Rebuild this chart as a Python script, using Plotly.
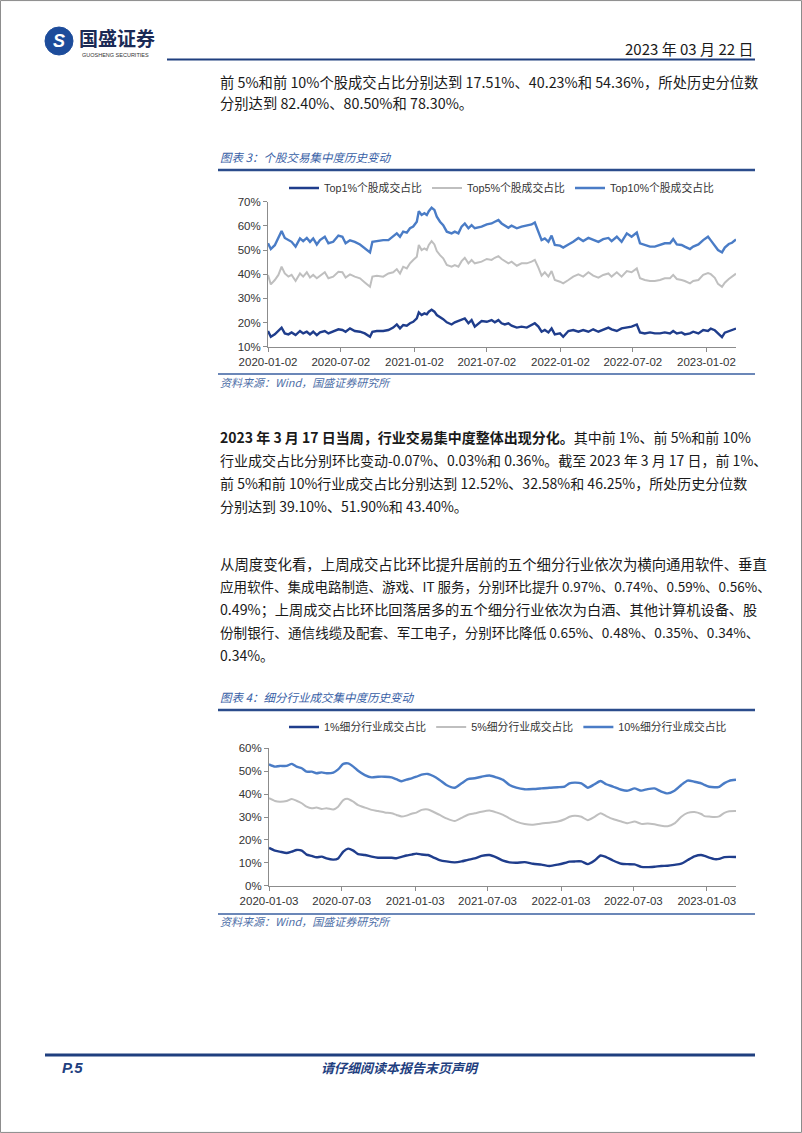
import pandas as pd
import plotly.graph_objects as go

W, H = 802, 1133

# ---------------- 图表3 数据：个股成交占比 (%) ----------------
c3_start = "2020-01-02"
c3_days = [0, 7, 17, 26, 34, 42, 51, 59, 69, 80, 88, 97, 105, 113, 122, 130, 142, 151, 163, 176,
           186, 194, 205, 217, 230, 242, 255, 261, 272, 288, 301, 313, 322, 330, 338, 347, 355, 363, 372, 377,
           384, 391, 397, 402, 409, 416, 422, 430, 438, 447, 459, 467, 476, 484, 492, 501, 509, 517,
           534, 547, 559, 567, 576, 584, 592, 601, 609, 622, 634, 647, 659, 667, 676, 684, 692, 701, 709, 717,
           730, 738, 751, 763, 776, 788, 801, 813, 826, 838, 851, 859, 872, 884, 897, 909, 922, 930, 942, 955,
           967, 980, 992, 1005, 1013, 1022, 1034, 1042, 1055, 1063, 1076, 1088,
           1100, 1107, 1117, 1125, 1135, 1142, 1152, 1160, 1170]
top1 = [16.5, 14.1, 15.1, 16.5, 17.9, 15.5, 15.1, 15.9, 14.8, 16.5, 15.5, 16.2, 15.1, 16.2, 14.8, 15.9, 16.5, 15.5, 16.2, 17.2,
        16.9, 16.2, 17.6, 16.5, 16.2, 15.5, 14.1, 16.2, 16.5, 16.5, 16.9, 17.9, 19.2, 17.6, 19.0, 18.7, 19.7, 20.3, 21.7, 24.2,
        23.1, 23.8, 23.4, 24.5, 25.3, 24.5, 23.1, 22.4, 21.4, 20.1, 19.2, 20.1, 20.6, 21.0, 21.7, 19.7, 21.0, 18.3,
        20.6, 20.3, 21.0, 20.1, 21.0, 19.7, 19.2, 19.7, 18.7, 17.9, 18.3, 17.9, 19.0, 19.7, 18.3, 16.2, 16.9, 15.9, 17.6, 15.1,
        15.5, 14.1, 16.5, 16.9, 16.2, 16.9, 16.2, 17.2, 16.2, 16.9, 17.9, 17.2, 16.5, 17.6, 17.9, 18.3, 19.2, 15.9, 15.5, 15.9,
        15.5, 15.5, 15.9, 15.5, 16.5, 15.5, 15.9, 15.1, 15.5, 16.2, 15.5, 16.9,
        16.5, 17.5, 16.8, 15.5, 14.0, 15.8, 16.5, 16.8, 17.51]
top5 = [39.7, 35.8, 37.6, 39.7, 43.1, 40.3, 39.0, 39.7, 37.2, 40.3, 39.0, 40.8, 38.6, 39.7, 38.3, 39.4, 40.8, 38.3, 39.0, 41.0,
        40.8, 38.6, 39.9, 39.0, 38.3, 36.6, 34.8, 39.0, 39.4, 39.0, 40.3, 40.8, 42.1, 40.3, 43.1, 42.4, 44.5, 45.9, 47.2, 52.1,
        50.0, 50.7, 50.0, 52.1, 53.7, 52.3, 49.6, 47.9, 46.6, 43.8, 43.1, 43.8, 43.1, 45.4, 46.8, 44.5, 45.9, 44.5,
        45.2, 46.3, 45.9, 46.8, 47.5, 46.3, 45.4, 44.5, 45.2, 43.5, 44.5, 44.5, 45.2, 45.9, 42.7, 39.4, 40.8, 39.0, 41.3, 37.6,
        36.9, 36.2, 37.6, 39.0, 39.9, 39.0, 40.8, 39.4, 38.6, 39.7, 40.3, 39.0, 40.8, 39.0, 41.3, 40.8, 42.4, 38.3, 37.6, 37.2,
        37.2, 37.6, 38.3, 38.3, 39.7, 38.0, 37.6, 37.2, 36.2, 37.2, 37.6, 39.7,
        40.5, 40.0, 38.5, 36.0, 34.8, 36.5, 38.0, 39.0, 40.23]
top10 = [52.8, 50.4, 52.0, 54.8, 57.9, 55.0, 54.0, 53.4, 51.4, 54.8, 53.7, 55.0, 53.4, 54.8, 52.3, 54.1, 55.5, 52.8, 53.4, 56.0,
         55.5, 52.8, 54.0, 53.4, 52.3, 50.7, 49.0, 53.4, 53.7, 54.1, 54.1, 55.5, 56.9, 55.5, 57.6, 57.2, 59.0, 59.7, 61.7, 66.1,
         64.5, 65.2, 64.5, 66.1, 67.5, 66.6, 63.8, 61.7, 60.3, 57.6, 56.9, 57.6, 56.9, 59.7, 61.0, 59.0, 60.3, 59.0,
         59.7, 60.6, 61.0, 61.7, 62.4, 61.0, 60.3, 59.2, 60.1, 59.0, 59.7, 60.1, 60.6, 61.4, 57.6, 54.1, 54.8, 53.4, 56.0, 52.1,
         51.8, 51.0, 52.3, 53.4, 55.0, 53.7, 55.0, 54.1, 53.4, 54.5, 55.0, 53.7, 55.5, 53.4, 56.9, 55.5, 57.2, 52.8, 52.1, 51.4,
         51.4, 52.1, 52.8, 52.8, 54.5, 52.3, 52.1, 51.4, 50.4, 51.4, 52.3, 54.1,
         55.5, 54.0, 52.0, 50.0, 49.0, 51.0, 52.5, 53.0, 54.36]
c3_names = ["Top1%个股成交占比", "Top5%个股成交占比", "Top10%个股成交占比"]
c3_ticks = ["2020-01-02", "2020-07-02", "2021-01-02", "2021-07-02", "2022-01-02", "2022-07-02", "2023-01-02"]

# ---------------- 图表4 数据：细分行业成交占比 (%) ----------------
c4_start = "2020-01-03"
c4_days = [0, 15, 27, 44, 57, 69, 82, 94, 107, 119, 132, 144, 161, 173, 186, 198, 211, 223, 240, 257,
           273, 290, 307, 319, 332, 344, 357, 369, 382, 398, 411, 427, 444, 465, 482, 498,
           515, 532, 552, 569, 586, 602, 619, 640, 661, 682, 702, 723, 740, 752, 765, 782, 798, 815, 830, 844,
           861, 882, 898, 915, 932, 948, 965, 982, 998, 1015, 1032, 1048, 1065, 1082, 1090,
           1102, 1115, 1127, 1140, 1152, 1169]
ind1 = [16.5, 15.3, 14.9, 14.3, 14.9, 15.6, 15.3, 13.6, 13.0, 12.4, 12.7, 11.9, 11.4, 11.9, 14.9, 16.2, 15.3, 13.8, 13.4, 12.7,
        12.2, 12.2, 12.2, 12.0, 12.6, 13.2, 13.6, 14.0, 13.6, 13.4, 12.4, 11.2, 10.6, 10.2, 10.6, 11.3,
        11.9, 13.0, 13.4, 12.4, 10.9, 10.2, 10.0, 10.3, 9.6, 9.2, 8.6, 9.2, 9.9, 10.5, 10.6, 10.6, 9.4, 11.0, 13.2, 12.5,
        11.0, 9.6, 9.4, 9.3, 8.2, 8.1, 8.3, 8.6, 8.7, 9.1, 9.6, 11.2, 12.8, 13.4, 13.0,
        12.3, 11.6, 11.7, 12.5, 12.6, 12.52]
ind5 = [38.2, 37.0, 36.7, 37.0, 37.9, 37.1, 36.0, 34.5, 33.8, 34.1, 33.5, 33.8, 33.3, 34.5, 37.4, 37.9, 36.7, 35.2, 34.1, 33.1,
        32.6, 32.0, 31.6, 30.9, 30.2, 30.6, 31.4, 31.9, 33.1, 33.3, 32.3, 30.9, 29.4, 28.2, 29.6, 31.0,
        31.6, 32.3, 32.8, 32.0, 30.9, 29.4, 28.0, 26.9, 26.6, 27.2, 27.5, 28.0, 29.0, 30.1, 30.6, 30.1, 28.6, 30.1, 31.6, 30.4,
        29.1, 28.0, 27.3, 28.0, 27.0, 27.2, 26.8, 26.2, 26.0, 27.2, 30.1, 31.8, 32.2, 31.3, 30.4,
        30.2, 30.0, 30.3, 31.8, 32.5, 32.58]
ind10 = [53.0, 52.0, 52.3, 52.3, 53.2, 52.0, 51.3, 49.8, 49.8, 49.1, 49.5, 49.1, 49.4, 50.8, 53.2, 53.4, 52.0, 50.2, 48.3, 47.3,
         47.6, 47.6, 47.3, 46.5, 45.6, 46.3, 46.9, 47.6, 48.5, 48.8, 47.9, 46.2, 44.0, 42.8, 44.7, 46.5,
         46.9, 47.6, 48.1, 47.3, 46.2, 44.0, 42.8, 42.1, 42.2, 42.5, 42.8, 43.0, 43.3, 44.7, 45.0, 44.7, 42.8, 44.3, 45.7, 44.3,
         43.3, 41.9, 41.5, 42.5, 41.5, 42.2, 42.5, 41.1, 40.3, 41.5, 44.0, 45.9, 45.4, 44.7, 44.0,
         43.2, 43.0, 43.2, 44.8, 45.8, 46.25]
c4_names = ["1%细分行业成交占比", "5%细分行业成交占比", "10%细分行业成交占比"]
c4_ticks = ["2020-01-03", "2020-07-03", "2021-01-03", "2021-07-03", "2022-01-03", "2022-07-03", "2023-01-03"]

colors = ["#1F3D8C", "#BFBFBF", "#4A7CC6"]
widths = [2.4, 2.0, 2.4]

# ---------------- 文本 ----------------
para1 = ["前 5%和前 10%个股成交占比分别达到 17.51%、40.23%和 54.36%，所处历史分位数",
         "分别达到 82.40%、80.50%和 78.30%。"]
para2 = ["<b>2023 年 3 月 17 日当周，行业交易集中度整体出现分化。</b>其中前 1%、前 5%和前 10%",
         "行业成交占比分别环比变动-0.07%、0.03%和 0.36%。截至 2023 年 3 月 17 日，前 1%、",
         "前 5%和前 10%行业成交占比分别达到 12.52%、32.58%和 46.25%，所处历史分位数",
         "分别达到 39.10%、51.90%和 43.40%。"]
para3 = ["从周度变化看，上周成交占比环比提升居前的五个细分行业依次为横向通用软件、垂直",
         "应用软件、集成电路制造、游戏、IT 服务，分别环比提升 0.97%、0.74%、0.59%、0.56%、",
         "0.49%；上周成交占比环比回落居多的五个细分行业依次为白酒、其他计算机设备、股",
         "份制银行、通信线缆及配套、军工电子，分别环比降低 0.65%、0.48%、0.35%、0.34%、",
         "0.34%。"]
para3_sizes = [14.4, 13.5, 14.2, 13.6, 14]

BODY = "Noto Sans CJK SC"
TICKF = "Liberation Sans, Noto Sans CJK SC"
NAVY = "#1F3F7F"
TITLE_C = "#3760A6"


def px(x):
    return x / W


def py(y):
    return 1 - y / H


fig = go.Figure()

d3 = pd.Timestamp(c3_start) + pd.to_timedelta(c3_days, unit="D")
for name, vals, c, w in zip(c3_names, [top1, top5, top10], colors, widths):
    fig.add_trace(go.Scatter(x=d3, y=vals, name=name, mode="lines",
                             line=dict(color=c, width=w), xaxis="x", yaxis="y", legend="legend"))

d4 = pd.Timestamp(c4_start) + pd.to_timedelta(c4_days, unit="D")
for name, vals, c, w in zip(c4_names, [ind1, ind5, ind10], colors, widths):
    fig.add_trace(go.Scatter(x=d4, y=vals, name=name, mode="lines",
                             line=dict(color=c, width=w, shape="spline", smoothing=0.6),
                             xaxis="x2", yaxis="y2", legend="legend2"))

axis_common = dict(showgrid=False, zeroline=False, showline=True, linecolor="#8C8C8C", linewidth=1,
                   ticks="outside", ticklen=4, tickcolor="#8C8C8C", automargin=False,
                   tickfont=dict(family=TICKF, size=11.5, color="#333333"))

leg_common = dict(orientation="h", xanchor="left", yanchor="middle",
                  font=dict(family=TICKF, size=10.8, color="#333333"), bgcolor="rgba(0,0,0,0)",
                  itemwidth=30, tracegroupgap=0, borderwidth=0)

fig.update_layout(
    width=W, height=H, margin=dict(l=0, r=0, t=0, b=0, pad=0, autoexpand=False),
    paper_bgcolor="white", plot_bgcolor="white", showlegend=True,
    xaxis=dict(domain=[px(268), px(736)], anchor="y", type="date",
               range=[c3_start, "2023-03-17"], tickvals=c3_ticks, ticktext=c3_ticks, **axis_common),
    yaxis=dict(domain=[py(346.7), py(201.7)], anchor="x", range=[10, 70], dtick=10,
               ticksuffix="%", **axis_common),
    xaxis2=dict(domain=[px(269), px(736)], anchor="y2", type="date",
                range=[c4_start, "2023-03-17"], tickvals=c4_ticks, ticktext=c4_ticks, **axis_common),
    yaxis2=dict(domain=[py(885.7), py(748.3)], anchor="x2", range=[0, 60], dtick=10,
                ticksuffix="%", **axis_common),
    legend=dict(x=px(284), y=py(188), **leg_common),
    legend2=dict(x=px(284), y=py(727), **leg_common),
)

anns = []


def ann(text, x, y, size, color="#1A1A1A", xanchor="left", family=BODY):
    anns.append(dict(text=text, x=px(x), y=py(y), xref="paper", yref="paper", xanchor=xanchor,
                     yanchor="middle", showarrow=False, font=dict(size=size, color=color, family=family)))


# header
ann("<b>国盛证券</b>", 77, 37.5, 19, "#1B2A55")
ann("GUOSHENG SECURITIES", 80, 54.5, 5.5, "#333333", family="Liberation Sans")
ann("<b><i>S</i></b>", 59, 41, 18, "white", xanchor="center", family="Liberation Sans")
ann("2023 年 03 月 22 日", 755, 48, 15, "#1A1A1A", xanchor="right")

for i, t in enumerate(para1):
    ann(t, 218, 81 + 21 * i, 14.3)
for i, t in enumerate(para2):
    ann(t, 218, 437 + 23 * i, 14)
for i, (t, s) in enumerate(zip(para3, para3_sizes)):
    ann(t, 218, 563 + 23 * i, s)

ann("<i>图表 3：个股交易集中度历史变动</i>", 218, 157, 11.5, TITLE_C)
ann("<i>资料来源：Wind，国盛证券研究所</i>", 218, 382, 11, "#4F6FA8")
ann("<i>图表 4：细分行业成交集中度历史变动</i>", 218, 697, 11.5, TITLE_C)
ann("<i>资料来源：Wind，国盛证券研究所</i>", 218, 921, 11, "#4F6FA8")

ann("<b><i>P.5</i></b>", 60, 1067, 15, NAVY, family="Liberation Sans")
ann("<b><i>请仔细阅读本报告末页声明</i></b>", 400, 1067, 13, NAVY, xanchor="center")

fig.update_layout(annotations=anns)

shapes = []


def hline(x0, x1, y, color, width):
    shapes.append(dict(type="line", xref="paper", yref="paper", x0=px(x0), x1=px(x1), y0=py(y), y1=py(y),
                       line=dict(color=color, width=width)))


hline(167, 755, 59.5, NAVY, 2)
hline(218, 755, 170, "#2B4C8C", 2.5)
hline(218, 755, 374, "#3A5FA0", 1.5)
hline(218, 755, 710, "#2B4C8C", 2.5)
hline(218, 755, 914, "#3A5FA0", 1.5)
hline(45, 755, 1055, NAVY, 3)

# logo circle
shapes.append(dict(type="circle", xref="paper", yref="paper", x0=px(45), x1=px(73), y0=py(55), y1=py(27),
                   fillcolor="#1D4C9B", line=dict(color="#1D4C9B", width=1)))
# page frame
shapes.append(dict(type="rect", xref="paper", yref="paper", x0=0.0006, x1=0.9994, y0=0.0005, y1=0.9995,
                   line=dict(color="#8A8A8A", width=1)))
fig.update_layout(shapes=shapes)

fig.write_html("out.html")
